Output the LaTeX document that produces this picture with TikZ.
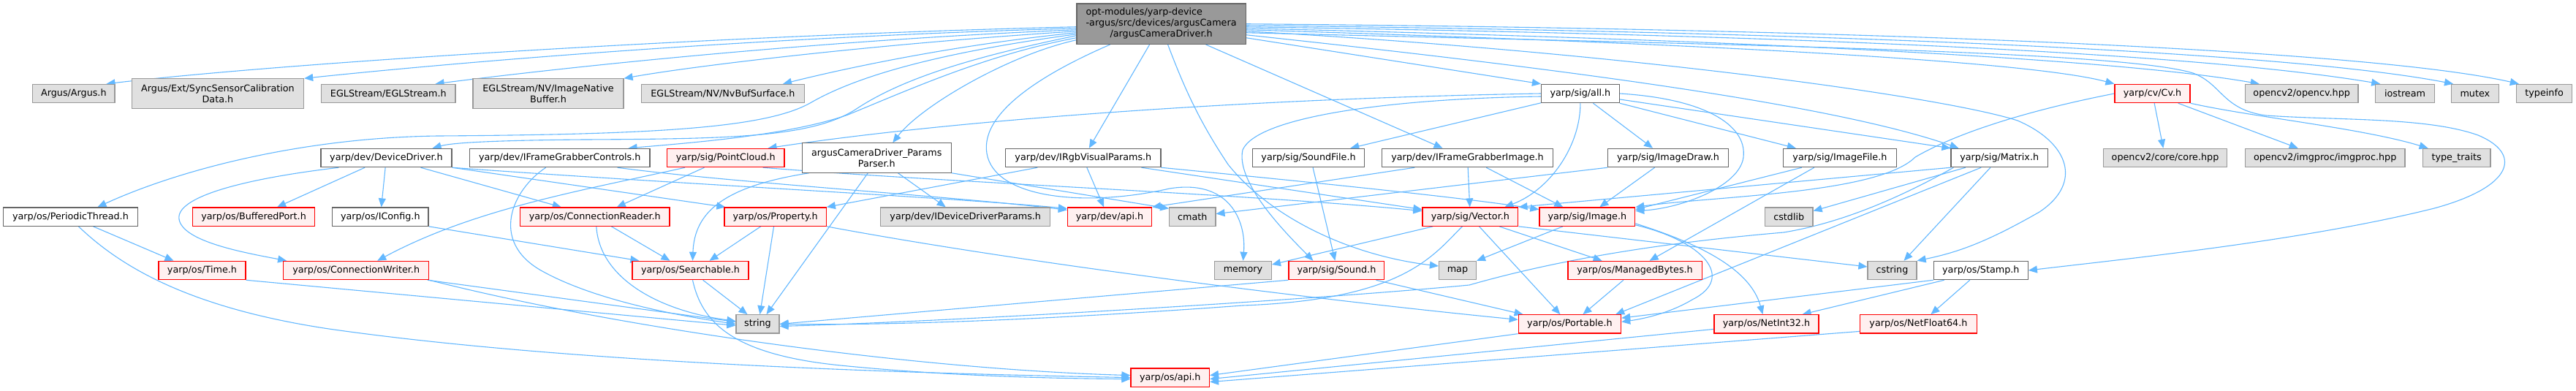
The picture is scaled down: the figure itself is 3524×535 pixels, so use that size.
\documentclass[tikz,border=0pt]{standalone}
\usepackage{fontspec}
\setmainfont{DejaVu Sans}
\usetikzlibrary{arrows.meta,calc,backgrounds}
\definecolor{edgec}{HTML}{63B8FF}
\definecolor{grayfill}{HTML}{E0E0E0}
\definecolor{grayline}{HTML}{999999}
\definecolor{redfill}{HTML}{FFF0F0}
\definecolor{redline}{HTML}{FF0000}
\definecolor{whiteline}{HTML}{666666}
\definecolor{mainfill}{HTML}{999999}
\newcommand{\mknode}[6]{\node[#2,minimum width=#5pt] (#1) at (#3,-#4) {#6};}
\begin{document}
\begin{tikzpicture}[x=1pt,y=1pt,
 nb/.style={draw, line width=1.2pt, inner sep=0pt, minimum height=25.3pt, font=\fontsize{12.75}{15.2}\selectfont, align=center, text=black},
 gnode/.style={nb, fill=grayfill, draw=grayline},
 rnode/.style={nb, fill=redfill, draw=redline},
 wnode/.style={nb, fill=white, draw=whiteline},
 mnode/.style={nb, fill=mainfill, draw=whiteline, minimum height=55.3pt},
 twoline/.style={minimum height=40.3pt},
 edg/.style={draw=edgec, line width=1.1pt, -{Triangle[length=12pt,width=10pt]}}]
\useasboundingbox (0,0) rectangle (3524,-535);
% row 1
\mknode{main}{mnode}{1588.6}{32.75}{231.2}{\begin{tabular}{@{}l@{}}opt-modules/yarp-device\\-argus/src/devices/argusCamera\\\multicolumn{1}{@{}c@{}}{/argusCameraDriver.h}\end{tabular}}
% row 2
\mknode{argus}{gnode}{100.85}{128}{112.1}{Argus/Argus.h}
\mknode{sync}{gnode,twoline}{297.95}{128}{235.3}{Argus/Ext/SyncSensorCalibration\\Data.h}
\mknode{egl}{gnode}{531.35}{128}{183.3}{EGLStream/EGLStream.h}
\mknode{imgnative}{gnode,twoline}{750}{128}{206}{EGLStream/NV/ImageNative\\Buffer.h}
\mknode{nvbuf}{gnode}{988.95}{128}{223.1}{EGLStream/NV/NvBufSurface.h}
\mknode{allh}{wnode}{2161.9}{128}{106.8}{yarp/sig/all.h}
\mknode{cv}{rnode}{2944.5}{128}{103}{yarp/cv/Cv.h}
\mknode{opencv}{gnode}{3148.65}{128}{154.7}{opencv2/opencv.hpp}
\mknode{iostream}{gnode}{3290}{128}{80.4}{iostream}
\mknode{mutex}{gnode}{3385.85}{128}{64.5}{mutex}
\mknode{typeinfo}{gnode}{3480.6}{128}{76.4}{typeinfo}
% row 3
\mknode{devdrv}{wnode}{528.5}{216}{179}{yarp/dev/DeviceDriver.h}
\mknode{ifgc}{wnode}{765.7}{216}{246.6}{yarp/dev/IFrameGrabberControls.h}
\mknode{pointcloud}{rnode}{992.8}{216}{160.4}{yarp/sig/PointCloud.h}
\mknode{params}{wnode,twoline}{1199.3}{216}{203.8}{argusCameraDriver\_Params\\Parser.h}
\mknode{irgb}{wnode}{1481.85}{216}{212.1}{yarp/dev/IRgbVisualParams.h}
\mknode{soundfile}{wnode}{1790.05}{216}{153.3}{yarp/sig/SoundFile.h}
\mknode{ifgi}{wnode}{2007.5}{216}{233.4}{yarp/dev/IFrameGrabberImage.h}
\mknode{imagedraw}{wnode}{2282}{216}{164.8}{yarp/sig/ImageDraw.h}
\mknode{imagefile}{wnode}{2516.9}{216}{155}{yarp/sig/ImageFile.h}
\mknode{matrix}{wnode}{2735.2}{216}{132.4}{yarp/sig/Matrix.h}
\mknode{core}{gnode}{2962}{216}{169.6}{opencv2/core/core.hpp}
\mknode{imgproc}{gnode}{3180.65}{216}{218.7}{opencv2/imgproc/imgproc.hpp}
\mknode{typetraits}{gnode}{3360.6}{216}{92.8}{type\_traits}
% row 4
\mknode{periodic}{wnode}{96.45}{296.6}{183.7}{yarp/os/PeriodicThread.h}
\mknode{buffered}{rnode}{347.1}{296.6}{166.8}{yarp/os/BufferedPort.h}
\mknode{iconfig}{wnode}{520.3}{296.6}{131.4}{yarp/os/IConfig.h}
\mknode{connreader}{rnode}{813.8}{296.6}{204.4}{yarp/os/ConnectionReader.h}
\mknode{property}{rnode}{1060.65}{296.6}{139.3}{yarp/os/Property.h}
\mknode{iddp}{gnode}{1320.75}{296.6}{231.9}{yarp/dev/IDeviceDriverParams.h}
\mknode{devapi}{rnode}{1518}{296.6}{115.2}{yarp/dev/api.h}
\mknode{cmath}{gnode}{1631.3}{296.6}{63.2}{cmath}
\mknode{vector}{rnode}{2011.35}{296.6}{130.9}{yarp/sig/Vector.h}
\mknode{image}{rnode}{2171.3}{296.6}{130.8}{yarp/sig/Image.h}
\mknode{cstdlib}{gnode}{2447.25}{296.6}{65.5}{cstdlib}
% row 5
\mknode{time}{rnode}{276.5}{370}{119}{yarp/os/Time.h}
\mknode{connwriter}{rnode}{487.2}{370}{199}{yarp/os/ConnectionWriter.h}
\mknode{searchable}{rnode}{944.5}{370}{159}{yarp/os/Searchable.h}
\mknode{memory}{gnode}{1700.55}{370}{77.7}{memory}
\mknode{sound}{rnode}{1828.4}{370}{130.8}{yarp/sig/Sound.h}
\mknode{map}{gnode}{1993.95}{370}{50.9}{map}
\mknode{managed}{rnode}{2236.55}{370}{183.3}{yarp/os/ManagedBytes.h}
\mknode{cstring}{gnode}{2588.5}{370}{67}{cstring}
\mknode{stamp}{wnode}{2709.8}{370}{129}{yarp/os/Stamp.h}
% row 6
\mknode{string}{gnode}{1036.5}{443.4}{59}{string}
\mknode{portable}{rnode}{2147.4}{443.4}{140.4}{yarp/os/Portable.h}
\mknode{netint}{rnode}{2416.45}{443.4}{143.1}{yarp/os/NetInt32.h}
\mknode{netfloat}{rnode}{2624.4}{443.4}{159.6}{yarp/os/NetFloat64.h}
% row 7
\mknode{osapi}{rnode}{1600.75}{516.6}{107.5}{yarp/os/api.h}

\begin{pgfonlayer}{background}
\fill[white] (0,0) rectangle (3524,-535);
% ---- main
\draw[edg] ($(main.west)+(0,-4)$) .. controls (1000,-48) and (400,-85) .. ($(argus.north east)+(-12,0)$);
\draw[edg] ($(main.west)+(0,-6)$) .. controls (1000,-52) and (600,-88) .. (sync.north east);
\draw[edg] ($(main.west)+(0,-8)$) .. controls (1100,-56) and (750,-95) .. ($(egl.north east)+(-28,0)$);
\draw[edg] ($(main.west)+(0,-10)$) .. controls (1200,-60) and (950,-90) .. (imgnative.north east);
\draw[edg] ($(main.west)+(0,-12)$) .. controls (1300,-62) and (1150,-95) .. ($(nvbuf.north east)+(-30,0)$);
\draw[edg] ($(main.west)+(0,-14)$) .. controls (1300,-70) and (1180,-100) .. (1110,-140) .. controls (1050,-175) and (900,-184) .. (600,-186) .. controls (420,-188) and (250,-230) .. ($(periodic.north)+(37,0)$);
\draw[edg] ($(main.west)+(0,-16)$) .. controls (1320,-80) and (1230,-110) .. (1170,-150) .. controls (1110,-188) and (1000,-190) .. (800,-191) .. controls (680,-192) and (620,-195) .. ($(devdrv.north east)+(-27,0)$);
\draw[edg] ($(main.west)+(0,-19)$) .. controls (1350,-75) and (1250,-120) .. (1160,-157) .. controls (1080,-185) and (950,-195) .. ($(ifgc.north east)+(-30,0)$);
\draw[edg] ($(main.west)+(0,-22)$) .. controls (1380,-75) and (1260,-145) .. ($(params.north)+(22,0)$);
\draw[edg] ($(main.south)+(-16,0)$) -- ($(irgb.north)+(8,0)$);
\draw[edg] ($(main.south)+(-70,0)$) .. controls (1440,-95) and (1340,-150) .. (1350,-210) .. controls (1360,-270) and (1480,-285) .. (1600,-258) .. controls (1680,-245) and (1705,-300) .. (memory.north);
\draw[edg] ($(main.south)+(9,0)$) .. controls (1620,-120) and (1640,-165) .. (1680,-225) .. controls (1740,-300) and (1850,-350) .. ($(map.west)+(0,6)$);
\draw[edg] ($(main.south)+(61,0)$) -- ($(ifgi.north)+(-34,0)$);
\draw[edg] ($(main.east)+(0,-19)$) -- (allh.north west);
\draw[edg] ($(main.east)+(0,-15)$) .. controls (2100,-90) and (2500,-140) .. ($(matrix.north west)+(11,0)$);
\draw[edg] ($(main.east)+(0,-8)$) .. controls (2500,-65) and (2800,-90) .. (cv.north west);
\draw[edg] ($(main.east)+(0,-6)$) .. controls (2600,-60) and (2950,-90) .. ($(opencv.north west)+(20,0)$);
\draw[edg] ($(main.east)+(0,-4)$) .. controls (2600,-50) and (3050,-80) .. ($(iostream.north west)+(7,0)$);
\draw[edg] ($(main.east)+(0,-2)$) .. controls (2600,-45) and (3150,-75) .. ($(mutex.north west)+(3,0)$);
\draw[edg] (main.east) .. controls (2600,-40) and (3250,-70) .. ($(typeinfo.north west)+(4,0)$);
\draw[edg] ($(main.east)+(0,-12)$) .. controls (2400,-62) and (2900,-70) .. (3000,-100) .. controls (3040,-115) and (3040,-150) .. (3100,-158) .. controls (3200,-165) and (3320,-160) .. (3390,-185) .. controls (3450,-210) and (3440,-255) .. (3330,-285) .. controls (3150,-330) and (2900,-355) .. (stamp.east);
\draw[edg] ($(main.east)+(0,-10)$) .. controls (2200,-70) and (2650,-130) .. (2760,-165) .. controls (2830,-195) and (2850,-250) .. (2790,-290) .. controls (2720,-330) and (2680,-345) .. (cstring.north east);
% ---- all.h
\draw[edg] (allh.west) .. controls (1700,-135) and (1300,-165) .. ($(pointcloud.north east)+(-23,0)$);
\draw[edg] (allh) -- ($(soundfile.north east)+(-20,0)$);
\draw[edg] ($(allh.west)+(0,-4)$) .. controls (1900,-135) and (1720,-160) .. (1700,-205) .. controls (1690,-250) and (1760,-320) .. ($(sound.north)+(-32,0)$);
\draw[edg] (allh.south) .. controls (2162,-200) and (2120,-260) .. ($(vector.north east)+(-19,0)$);
\draw[edg] (allh) -- ($(imagedraw.north)+(-21,0)$);
\draw[edg] (allh.south east) -- ($(imagefile.north west)+(18,0)$);
\draw[edg] (allh.east) .. controls (2330,-135) and (2390,-170) .. (2385,-215) .. controls (2380,-255) and (2300,-285) .. ($(image.east)+(0,8)$);
\draw[edg] (allh) -- (matrix.north west);
% ---- DeviceDriver
\draw[edg] (devdrv) -- ($(buffered.north)+(32,0)$);
\draw[edg] (devdrv) -- (iconfig);
\draw[edg] ($(devdrv.south west)+(25,0)$) .. controls (330,-245) and (240,-270) .. (245,-300) .. controls (250,-330) and (330,-345) .. ($(connwriter.north west)+(5,0)$);
\draw[edg] (devdrv) -- ($(connreader.north)+(-46,0)$);
\draw[edg] (devdrv.south east) -- ($(property.north west)+(2,0)$);
\draw[edg] (devdrv.south east) .. controls (900,-250) and (1300,-270) .. ($(devapi.north west)+(0,-2)$);
% ---- IFrameGrabberControls
\draw[edg] ($(ifgc.south)+(-19,0)$) .. controls (700,-260) and (670,-330) .. (740,-370) .. controls (820,-415) and (950,-435) .. (string.west);
\draw[edg] ($(ifgc.south east)+(-45,0)$) .. controls (1000,-250) and (1300,-268) .. ($(devapi.north west)+(0,-4)$);
% ---- PointCloud
\draw[edg] ($(pointcloud.south west)+(25,0)$) .. controls (800,-260) and (650,-285) .. ($(connwriter.north)+(29,0)$);
\draw[edg] (pointcloud) -- ($(connreader.north)+(30,0)$);
\draw[edg] ($(pointcloud.south east)+(-30,0)$) .. controls (1300,-250) and (1700,-265) .. ($(vector.west)+(0,8)$);
% ---- ParamsParser
\draw[edg] (params) -- ($(iddp.north)+(-27,0)$);
\draw[edg] ($(params.south west)+(10,0)$) .. controls (990,-255) and (950,-290) .. ($(searchable.north)+(3,0)$);
\draw[edg] ($(params.south)+(-12,0)$) -- ($(string.north)+(12,0)$);
\draw[edg] (params.south east) -- ($(cmath.north west)+(0,-2)$);
% ---- IRgbVisualParams
\draw[edg] ($(irgb.south)+(5,0)$) -- ($(devapi.north)+(-8,0)$);
\draw[edg] ($(irgb.south west)+(44,0)$) -- (property.north east);
\draw[edg] ($(irgb.south east)+(-27,0)$) -- ($(vector.west)+(0,10)$);
\draw[edg] (irgb.south east) .. controls (1800,-250) and (2000,-270) .. ($(image.west)+(0,10)$);
% ---- PeriodicThread
\draw[edg] (periodic) -- ($(time.north)+(-39,0)$);
\draw[edg] ($(periodic.south)+(11,0)$) .. controls (160,-360) and (250,-420) .. (450,-450) .. controls (800,-500) and (1300,-512) .. (osapi.west);
% ---- os
\draw[edg] (iconfig.south east) -- ($(searchable.north west)+(10,0)$);
\draw[edg] (connreader) -- ($(searchable.north)+(-28,0)$);
\draw[edg] ($(connreader.south)+(2,0)$) .. controls (820,-380) and (900,-425) .. ($(string.west)+(0,4)$);
\draw[edg] (property) -- ($(searchable.north)+(26,0)$);
\draw[edg] (property) -- ($(string.north)+(3,0)$);
\draw[edg] (property.south east) .. controls (1400,-360) and (1800,-410) .. ($(portable.west)+(0,6)$);
\draw[edg] (connwriter) -- ($(string.west)+(0,3)$);
\draw[edg] (connwriter.south east) .. controls (850,-450) and (1250,-505) .. ($(osapi.west)+(0,3)$);
\draw[edg] (time.south east) -- ($(string.west)+(0,-2)$);
\draw[edg] (searchable) -- ($(string.north)+(-14,0)$);
\draw[edg] ($(searchable.south)+(3,0)$) .. controls (960,-440) and (1000,-485) .. (1150,-500) .. controls (1300,-515) and (1450,-518) .. ($(osapi.west)+(0,-2)$);
% ---- sig
\draw[edg] ($(soundfile.south)+(6,0)$) -- ($(sound.north)+(-2,0)$);
\draw[edg] ($(ifgi.south west)+(45,0)$) -- (devapi.north east);
\draw[edg] (ifgi) -- (vector);
\draw[edg] (ifgi) -- ($(image.north)+(-33,0)$);
\draw[edg] (imagedraw.south west) -- ($(cmath.east)+(0,4)$);
\draw[edg] (imagedraw) -- ($(image.north)+(17,0)$);
\draw[edg] ($(imagefile.south west)+(26,0)$) -- ($(image.east)+(0,10)$);
\draw[edg] ($(imagefile.south west)+(43,0)$) -- ($(managed.north)+(20,0)$);
\draw[edg] ($(vector.south west)+(15,0)$) -- ($(memory.east)+(0,8)$);
\draw[edg] ($(vector.south)+(-11,0)$) .. controls (1960,-350) and (1920,-410) .. (1700,-418) .. controls (1400,-440) and (1200,-445) .. (string.east);
\draw[edg] (vector) -- ($(portable.north)+(-13,0)$);
\draw[edg] (vector) -- ($(managed.north)+(-45,0)$);
\draw[edg] (vector.south east) -- ($(cstring.west)+(0,5)$);
\draw[edg] (image) -- (map.north east);
\draw[edg] ($(image.south east)+(0,2)$) .. controls (2330,-330) and (2375,-380) .. (2315,-410) .. controls (2285,-428) and (2250,-436) .. ($(portable.east)+(0,3)$);
\draw[edg] ($(image.south east)+(0,4)$) .. controls (2330,-335) and (2395,-370) .. ($(netint.north)+(-5,0)$);
\draw[edg] (sound.south west) -- (string.east);
\draw[edg] ($(sound.south east)+(-12,0)$) -- ($(portable.north west)+(7,0)$);
\draw[edg] (managed) -- ($(portable.north)+(18,0)$);
\draw[edg] (portable.south west) -- ($(osapi.east)+(0,3)$);
% ---- Matrix
\draw[edg] (matrix.south west) -- (vector.north east);
\draw[edg] (matrix) -- ($(cstdlib.east)+(0,8)$);
\draw[edg] (matrix) -- ($(cstring.north)+(16,0)$);
\draw[edg] ($(matrix.south)+(-25,0)$) -- ($(portable.north east)+(-8,0)$);
\draw[edg] ($(matrix.south west)+(4,0)$) .. controls (2600,-270) and (2520,-305) .. (2440,-318) .. controls (2300,-330) and (2150,-350) .. (2010,-390) .. controls (1800,-410) and (1300,-440) .. ($(string.east)+(0,-3)$);
% ---- Cv
\draw[edg] (cv) -- (core);
\draw[edg] (cv) -- ($(imgproc.north)+(-37,0)$);
\draw[edg] (cv.south east) .. controls (3080,-160) and (3230,-175) .. ($(typetraits.north west)+(8,0)$);
\draw[edg] (cv.west) .. controls (2780,-150) and (2680,-180) .. (2620,-215) .. controls (2570,-265) and (2350,-268) .. (image.north east);
% ---- Stamp
\draw[edg] (stamp.south west) -- ($(portable.north east)+(0,-5)$);
\draw[edg] ($(stamp.south west)+(15,0)$) -- ($(netint.north east)+(-23,0)$);
\draw[edg] (stamp) -- ($(netfloat.north)+(17,0)$);
\draw[edg] ($(netint.west)+(0,-7)$) -- ($(osapi.east)+(0,-2)$);
\draw[edg] ($(netfloat.west)+(0,-10)$) -- ($(osapi.east)+(0,-6)$);
\end{pgfonlayer}
\end{tikzpicture}
\end{document}
